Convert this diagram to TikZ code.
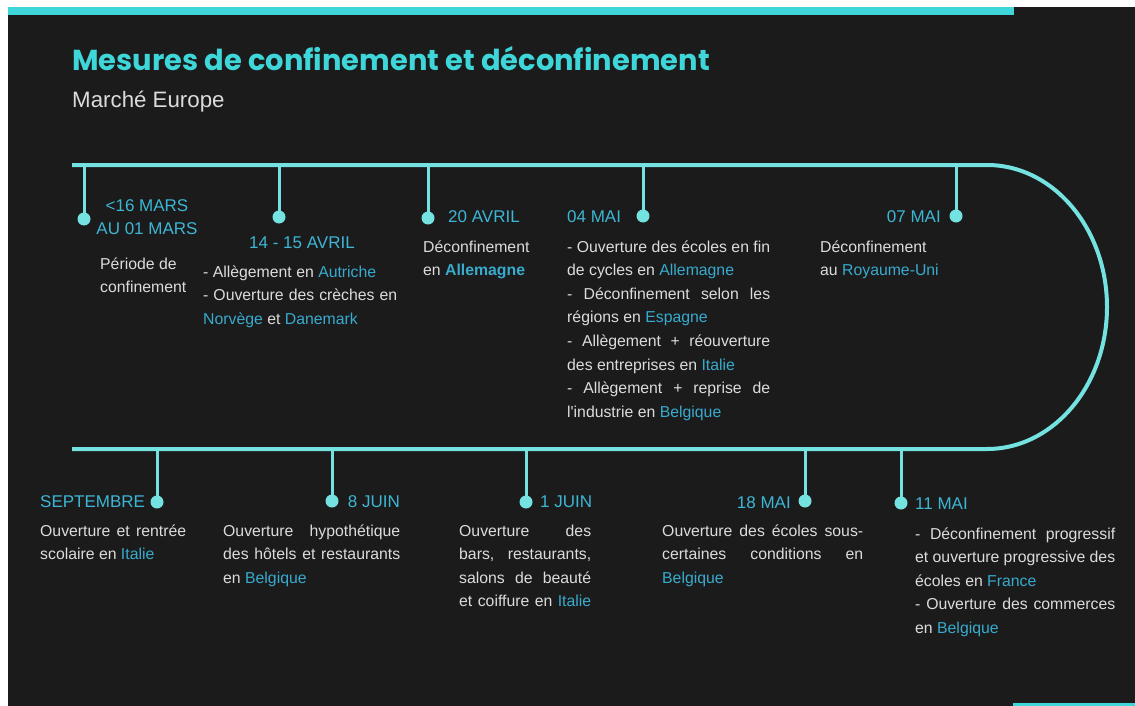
\documentclass[tikz,border=0pt]{standalone}
\usepackage{fontspec}
\setmainfont{Liberation Sans}
\newfontfamily\titlefont{Poppins}
\definecolor{bgc}{HTML}{1B1B1B}
\definecolor{barc}{HTML}{3ED6D8}
\definecolor{linec}{HTML}{74E2E0}
\definecolor{datec}{HTML}{3DB6D6}
\definecolor{hlc}{HTML}{38ABCE}
\definecolor{txtc}{HTML}{DCDCDC}
\newcommand{\cty}[1]{\textcolor{hlc}{#1}}
\newcommand{\jline}[2]{\hbox to #1{#2}}
\newcommand{\nline}[1]{\hbox{#1}}
\newcommand{\lines}[1]{\vtop{\baselineskip=23.6pt #1}}
\tikzset{
  tline/.style={draw=linec, line width=4pt},
  stem/.style={draw=linec, line width=3pt},
  dot/.style={circle, fill=linec, minimum size=13pt, inner sep=0pt},
  date/.style={text=datec, inner sep=0pt, font=\fontsize{17}{23}\selectfont},
  body/.style={text=txtc, inner sep=0pt, font=\fontsize{15.8}{23.6}\selectfont},
}
\begin{document}
\begin{tikzpicture}[x=1pt,y=-1pt]
\useasboundingbox (0,0) rectangle (1135,706);
\fill[white] (0,0) rectangle (1135,706);
\fill[bgc] (8,7) rectangle (1135,706);
\fill[barc] (8,7) rectangle (1014,15);
\fill[barc] (1013,703) rectangle (1135,706);

% title
\node[anchor=base west, inner sep=0pt, text=barc, font=\titlefont\bfseries\fontsize{28.9}{34}\selectfont] (title) at (72,71) {Mesures de confinement et déconfinement};
\node[anchor=base west, inner sep=0pt, text=txtc, font=\fontsize{22.3}{26}\selectfont] (sub) at (72,108) {Marché Europe};

% timeline
\coordinate (ls) at (72,165);
\coordinate (arcA) at (987,165);
\coordinate (le) at (72,449);
\draw[tline] (ls) -- (arcA) arc[start angle=90, end angle=-90, x radius=120pt, y radius=142pt] -- (le);

% top stems
\coordinate (t1) at (84,165);  \node[dot] (d1) at (84,219) {};
\coordinate (t2) at (279,165); \node[dot] (d2) at (279,217) {};
\coordinate (t3) at (428,165); \node[dot] (d3) at (428,218) {};
\coordinate (t4) at (643,165); \node[dot] (d4) at (643,216) {};
\coordinate (t5) at (956,165); \node[dot] (d5) at (956,216) {};
% bottom stems
\coordinate (b1) at (157,449); \node[dot] (d6) at (157,502) {};
\coordinate (b2) at (332,449); \node[dot] (d7) at (332,501) {};
\coordinate (b3) at (526,449); \node[dot] (d8) at (526,502) {};
\coordinate (b4) at (805,449); \node[dot] (d9) at (805,501) {};
\coordinate (b5) at (901,449); \node[dot] (d10) at (901,503) {};
\foreach \a/\b in {t1/d1,t2/d2,t3/d3,t4/d4,t5/d5,b1/d6,b2/d7,b3/d8,b4/d9,b5/d10}
  \draw[stem] (\a) -- (\b.center);

% top texts
\node[date, anchor=base] (dt1) at (147,211) {\lines{\hbox to 110pt{\hfil <16 MARS\hfil}\hbox to 110pt{\hfil AU 01 MARS\hfil}}};
\node[body, anchor=base west] (bd1) at (100,269) {\lines{\nline{Période de}\nline{confinement}}};

\node[date, anchor=base] (dt2) at (302,248) {14 - 15 AVRIL};
\node[body, anchor=base west] (bd2) at (203,277) {\lines{%
  \nline{- Allègement en \cty{Autriche}}%
  \jline{194pt}{- Ouverture des crèches en}%
  \nline{\cty{Norvège} et \cty{Danemark}}}};

\node[date, anchor=base west] (dt3) at (448,222) {20 AVRIL};
\node[body, anchor=base west] (bd3) at (423,252) {\lines{%
  \nline{Déconfinement}%
  \nline{en \cty{\bfseries Allemagne}}}};

\node[date, anchor=base west] (dt4) at (567,222) {04 MAI};
\node[body, anchor=base west] (bd4) at (567,252) {\lines{%
  \jline{203pt}{- Ouverture des écoles en fin}%
  \nline{de cycles en \cty{Allemagne}}%
  \jline{203pt}{- Déconfinement selon les}%
  \nline{régions en \cty{Espagne}}%
  \jline{203pt}{- Allègement + réouverture}%
  \nline{des entreprises en \cty{Italie}}%
  \jline{203pt}{- Allègement + reprise de}%
  \nline{l\textquotesingle industrie en \cty{Belgique}}}};

\node[date, anchor=base east] (dt5) at (941,222) {07 MAI};
\node[body, anchor=base west] (bd5) at (820,252) {\lines{%
  \nline{Déconfinement}%
  \nline{au \cty{Royaume-Uni}}}};

% bottom texts
\node[date, anchor=base west] (dt6) at (40,507) {SEPTEMBRE};
\node[body, anchor=base west] (bd6) at (40,536) {\lines{%
  \jline{146pt}{Ouverture et rentrée}%
  \nline{scolaire en \cty{Italie}}}};

\node[date, anchor=base east] (dt7) at (400,507) {8 JUIN};
\node[body, anchor=base west] (bd7) at (223,536) {\lines{%
  \jline{177pt}{Ouverture hypothétique}%
  \jline{177pt}{des hôtels et restaurants}%
  \nline{en \cty{Belgique}}}};

\node[date, anchor=base west] (dt8) at (540,507) {1 JUIN};
\node[body, anchor=base west] (bd8) at (459,536) {\lines{%
  \jline{132pt}{Ouverture des}%
  \jline{132pt}{bars, restaurants,}%
  \jline{132pt}{salons de beauté}%
  \jline{132pt}{et coiffure en \cty{Italie}}}};

\node[date, anchor=base east] (dt9) at (791,508) {18 MAI};
\node[body, anchor=base west] (bd9) at (662,536) {\lines{%
  \jline{201pt}{Ouverture des écoles sous-}%
  \jline{201pt}{certaines conditions en}%
  \nline{\cty{Belgique}}}};

\node[date, anchor=base west] (dt10) at (915,509) {11 MAI};
\node[body, anchor=base west] (bd10) at (915,539) {\lines{%
  \jline{200pt}{- Déconfinement progressif}%
  \jline{200pt}{et ouverture progressive des}%
  \nline{écoles en \cty{France}}%
  \jline{200pt}{- Ouverture des commerces}%
  \nline{en \cty{Belgique}}}};
\end{tikzpicture}
\end{document}
